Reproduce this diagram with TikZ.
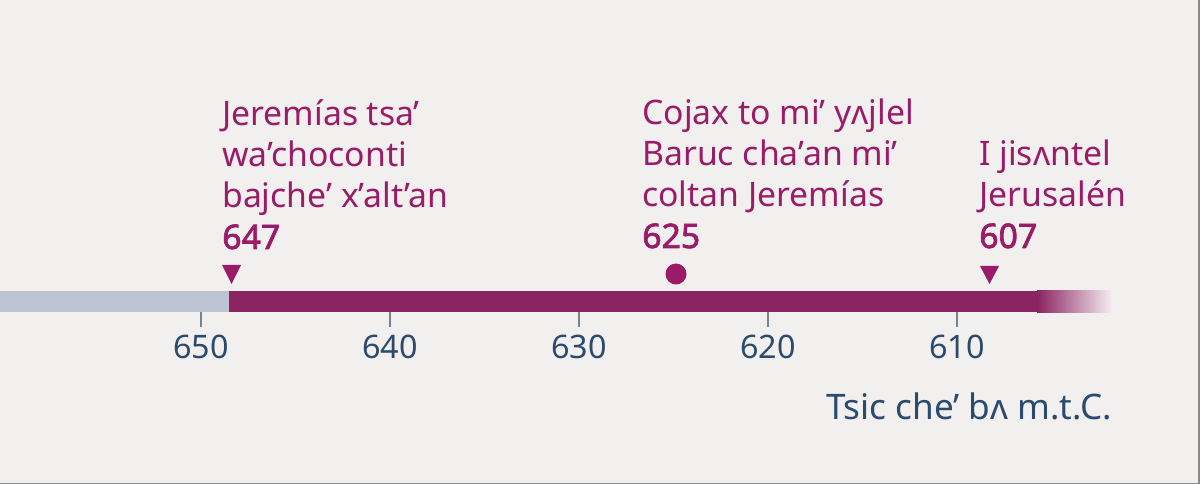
\documentclass[tikz,border=0pt]{standalone}
\usepackage{fontspec}
\setmainfont{Noto Sans}
\newfontfamily\numbold{Noto Sans}[FakeBold=2.2]
\newcommand\eventfont{\fontsize{24}{29.2}\selectfont\lineskiplimit-50pt\lineskip0pt\relax}
\definecolor{bg}{HTML}{F1F0EE}
\definecolor{txtpurple}{HTML}{9A1C68}
\definecolor{barpurple}{HTML}{8B2462}
\definecolor{bargray}{HTML}{BCC3D3}
\definecolor{axisblue}{HTML}{2C4A6E}
\definecolor{tickgray}{HTML}{7A8291}
\definecolor{framegray}{HTML}{8A8A8A}
\begin{document}
\begin{tikzpicture}[x=0.025cm,y=-0.025cm,
  event/.style={anchor=base west, inner sep=0pt, align=left, text=txtpurple,
    font=\eventfont},
  yearlabel/.style={anchor=base, inner sep=0pt, text=axisblue,
    font=\fontsize{23}{26}\selectfont},
  axisnote/.style={anchor=base east, inner sep=0pt, text=axisblue,
    font=\fontsize{25}{28}\selectfont},
  tickmark/.style={draw=tickgray, line width=1.6pt},
  tri/.style={fill=txtpurple}]
\useasboundingbox (0,0) rectangle (1200,484);
\fill[bg] (0,0) rectangle (1200,484);
\draw[framegray, line width=1.2pt] (0,483.5) -- (1199.3,483.5) -- (1199.3,0);
% bar
\fill[bargray] (0,291) rectangle (229,312);
\fill[barpurple] (229,291) rectangle (1038,312);
\shade[left color=barpurple, right color=white!92!barpurple] (1037,291) rectangle (1112,312);
% ticks and labels
\foreach \x/\y in {201/650, 390/640, 579/630, 768/620, 957/610}{
  \draw[tickmark] (\x,312) -- (\x,327);
  \node[yearlabel] (y\y) at (\x,358) {\y};
}
% markers
\fill[tri] (222,265) -- (241,265) -- (231.5,284) -- cycle;
\fill[txtpurple] (676,274) circle (10.5);
\fill[tri] (980,266) -- (999,266) -- (989.5,284) -- cycle;
% event texts
\node[event] (e647) at (222,249) {Jeremías tsa’\\wa’choconti\\bajche’ x’alt’an\\{\numbold 647}};
\node[event] (e625) at (642,248) {Cojax to mi’ yʌjlel\\Baruc cha’an mi’\\coltan Jeremías\\{\numbold 625}};
\node[event] (e607) at (979,248) {I jisʌntel\\Jerusalén\\{\numbold 607}};
% axis note
\node[axisnote] (note) at (1112,419) {Tsic che’ bʌ m.t.C.};
\end{tikzpicture}
\end{document}
